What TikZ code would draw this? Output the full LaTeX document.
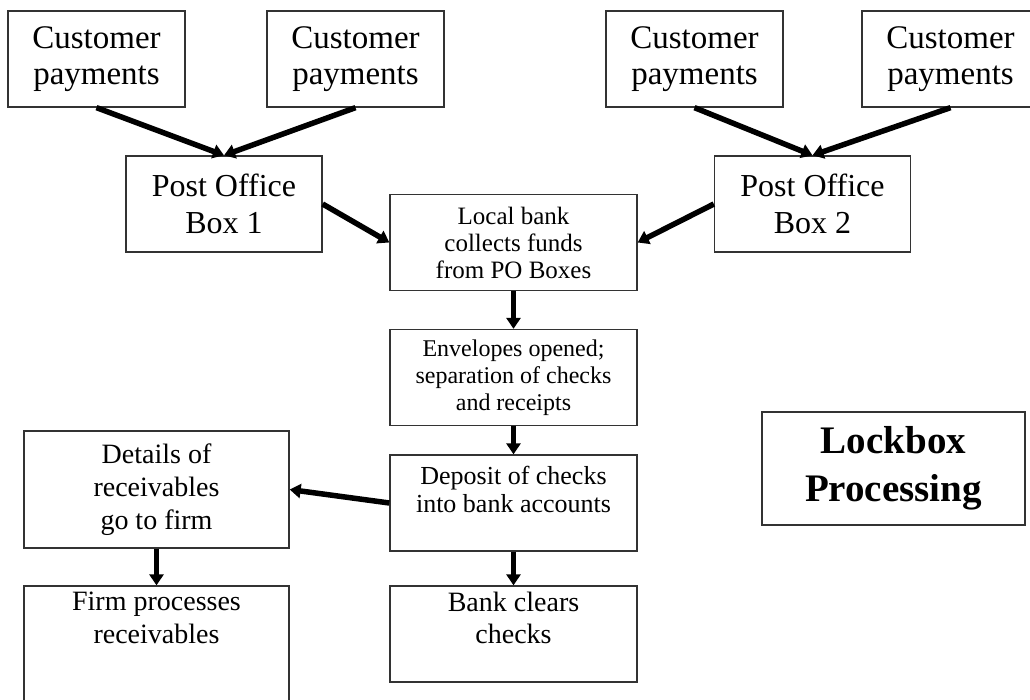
\documentclass[tikz,border=0pt]{standalone}
\usepackage{fontspec}
\setmainfont{Liberation Serif}
\usetikzlibrary{arrows.meta}

\begin{document}
\begin{tikzpicture}[x=1pt,y=-1pt,
		box/.style={draw=black!80,line width=1.3pt,align=center,inner sep=0pt},
		paybox/.style={box,minimum width=177pt,minimum height=96pt,font=\fontsize{33}{36}\selectfont},
		pobox/.style={box,minimum width=196pt,minimum height=96pt,font=\fontsize{32}{37}\selectfont},
		bankbox/.style={box,minimum width=247pt,minimum height=96pt},
		firmbox/.style={box,minimum width=265pt,font=\fontsize{28}{33}\selectfont},
		flow/.style={line width=5.5pt,-{Triangle[length=11pt,width=14pt]}}]
				\useasboundingbox (0,0) rectangle (1030,700);
				\node[paybox] (custA) at (96.5,59) {Customer\\payments};
				\node[paybox] (custB) at (355.5,59) {Customer\\payments};
				\node[paybox] (custC) at (694.5,59) {Customer\\payments};
				\node[paybox] (custD) at (950.5,59) {Customer\\payments};
				\node[pobox] (boxA) at (224,204) {Post Office\\Box 1};
				\node[pobox] (boxB) at (812.5,204) {Post Office\\Box 2};
				\node[bankbox,font=\fontsize{25}{27}\selectfont] (collect) at (513.5,242.5) {Local bank\\collects funds\\from PO Boxes};
				\node[bankbox,font=\fontsize{24}{27}\selectfont] (opened) at (513.5,377.5) {Envelopes opened;\\separation of checks\\and receipts};
				\node[bankbox,font=\fontsize{26}{28}\selectfont] (deposit) at (513.5,503) {Deposit of checks\\into bank accounts\\~};
				\node[bankbox,font=\fontsize{28}{32}\selectfont] (clears) at (513.5,634) {Bank clears\\checks\\~};
				\node[firmbox,minimum height=117pt] (details) at (156.5,489.5) {Details of\\receivables\\go to firm};
				\node[firmbox,minimum height=130pt] (firm) at (156.5,651) {Firm processes\\receivables\\~\\~};
				\node[box,minimum width=263pt,minimum height=113pt,font=\fontsize{39}{48}\selectfont\bfseries] (title) at (893.5,468.5) {Lockbox\\Processing};
				\draw[flow] (custA.south) -- (boxA.north);
				\draw[flow] (custB.south) -- (boxA.north);
				\draw[flow] (custC.south) -- (boxB.north);
				\draw[flow] (custD.south) -- (boxB.north);
				\draw[flow] (boxA.east) -- (collect.west);
				\draw[flow] (boxB.west) -- (collect.east);
				\draw[flow] (collect) -- (opened);
				\draw[flow] (opened) -- (deposit);
				\draw[flow] (deposit) -- (clears);
				\draw[flow] (deposit.west) -- (details.east);
				\draw[flow] (details) -- (firm);
			\end{tikzpicture}
\end{document}
